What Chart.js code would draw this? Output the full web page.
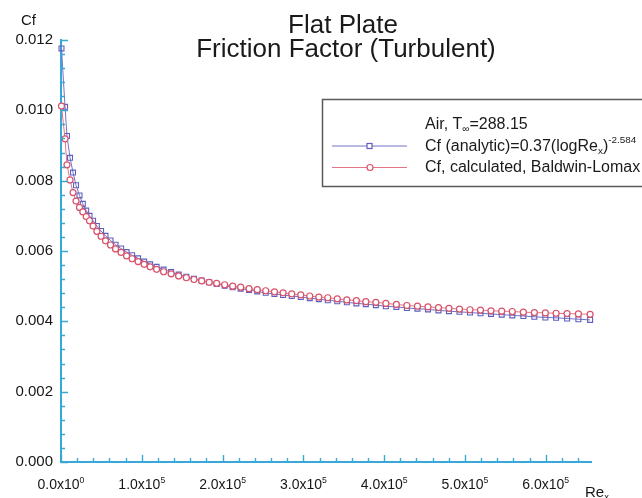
<!DOCTYPE html>
<html>
<head>
<meta charset="utf-8">
<script src="https://cdn.jsdelivr.net/npm/chart.js@4.4.1/dist/chart.umd.min.js"></script>
<style>
  html, body { margin: 0; padding: 0; background: #ffffff; }
  #wrap { width: 642px; height: 498px; }
</style>
</head>
<body>
<div id="wrap"><canvas id="chart" width="642" height="498"></canvas></div>
<script>
// Reynolds number along the plate (grid stations)
const reX = [600, 5000, 7400, 11200, 14900, 18600, 22900, 27000, 31200, 35300,
  39700, 44400, 49600, 55100, 61300, 67500, 74400, 81200, 88000, 95400,
  102900, 110300, 118300, 127000, 136300, 145600, 155100, 164600, 174100, 183400,
  192700, 202600, 212500, 222400, 232700, 242900, 253400, 264200, 274900, 285600,
  296800, 307900, 319100, 330200, 342000, 353800, 365600, 377300, 389700, 402100,
  415100, 428100, 441200, 454200, 467200, 480200, 493200, 506200, 519200, 532200,
  545500, 558600, 572300, 585900, 599500, 612800, 626400, 640400, 654900];

// Skin friction coefficient, analytic correlation
const cfAnalytic = [0.01176, 0.01010, 0.00927, 0.00865, 0.00823, 0.00787, 0.00758, 0.00734, 0.00715, 0.00700,
  0.00686, 0.00671, 0.00657, 0.00643, 0.00630, 0.00618, 0.00607, 0.00597, 0.00588, 0.00579,
  0.00570, 0.00562, 0.00555, 0.00547, 0.00540, 0.00533, 0.00527, 0.00521, 0.00516, 0.00511,
  0.00506, 0.00501, 0.00497, 0.00493, 0.00489, 0.00485, 0.00481, 0.00478, 0.00475, 0.00472,
  0.00469, 0.00466, 0.00463, 0.00460, 0.00457, 0.00454, 0.00451, 0.00449, 0.00446, 0.00443,
  0.00441, 0.00438, 0.00436, 0.00434, 0.00431, 0.00429, 0.00427, 0.00425, 0.00423, 0.00421,
  0.00419, 0.00417, 0.00415, 0.00413, 0.00411, 0.00410, 0.00408, 0.00406, 0.00404];

// Skin friction coefficient, Baldwin-Lomax solution
const cfBaldwinLomax = [0.01012, 0.00919, 0.00845, 0.00802, 0.00766, 0.00742, 0.00724, 0.00711, 0.00698, 0.00686,
  0.00671, 0.00656, 0.00642, 0.00629, 0.00617, 0.00606, 0.00596, 0.00586, 0.00578, 0.00570,
  0.00562, 0.00555, 0.00548, 0.00541, 0.00535, 0.00529, 0.00524, 0.00519, 0.00515, 0.00511,
  0.00508, 0.00504, 0.00500, 0.00497, 0.00493, 0.00490, 0.00487, 0.00484, 0.00481, 0.00478,
  0.00475, 0.00472, 0.00469, 0.00467, 0.00464, 0.00461, 0.00459, 0.00456, 0.00454, 0.00451,
  0.00448, 0.00445, 0.00443, 0.00441, 0.00439, 0.00437, 0.00435, 0.00433, 0.00432, 0.00430,
  0.00429, 0.00428, 0.00426, 0.00425, 0.00424, 0.00423, 0.00422, 0.00421, 0.00420];

// Axis ticks and labels
const xTickValues = [0, 100000, 200000, 300000, 400000, 500000, 600000];
const xTickLabels = ['0.0x10^{0}', '1.0x10^{5}', '2.0x10^{5}', '3.0x10^{5}', '4.0x10^{5}', '5.0x10^{5}', '6.0x10^{5}'];
const yTickValues = [0, 0.002, 0.004, 0.006, 0.008, 0.010, 0.012];
const yTickLabels = ['0.000', '0.002', '0.004', '0.006', '0.008', '0.010', '0.012'];

const titleLines = ['Flat Plate', 'Friction Factor (Turbulent)'];
const legendHeader = 'Air, T_{\u221E}=288.15';
const seriesLabels = ['Cf, calculated, Baldwin-Lomax', 'Cf (analytic)=0.37(logRe_{x})^{-2.584}'];
const yAxisName = 'Cf';
const xAxisName = 'Re_{x}';

const FONT = '"Liberation Sans", Arial, Helvetica, sans-serif';
const AXIS = '#38a8d4';
const RED = '#d8526a';
const RED_LINE = '#e17585';
const BLUE = '#5f5fbf';
const BLUE_LINE = '#7373c9';

// split "a_{b}c^{d}" into plain / subscript / superscript runs
function richRuns(str) {
  const out = [];
  const re = /([_^])\{([^}]*)\}/g;
  let last = 0, m;
  while ((m = re.exec(str))) {
    if (m.index > last) out.push({ t: str.slice(last, m.index), k: '' });
    out.push({ t: m[2], k: m[1] });
    last = re.lastIndex;
  }
  if (last < str.length) out.push({ t: str.slice(last), k: '' });
  return out;
}

function drawRich(ctx, str, x, y, size, align, color) {
  const runs = richRuns(str);
  const small = size * 0.62;
  let w = 0;
  runs.forEach(r => {
    ctx.font = (r.k ? small : size) + 'px ' + FONT;
    r.w = ctx.measureText(r.t).width;
    w += r.w;
  });
  let cx = align === 'center' ? x - w / 2 : x;
  ctx.fillStyle = color;
  ctx.textAlign = 'left';
  ctx.textBaseline = 'alphabetic';
  runs.forEach(r => {
    ctx.font = (r.k ? small : size) + 'px ' + FONT;
    const dy = r.k === '^' ? -size * 0.45 : (r.k === '_' ? size * 0.22 : 0);
    ctx.fillText(r.t, cx, y + dy);
    cx += r.w;
  });
}

const decorations = {
  id: 'decorations',
  afterDraw(chart) {
    const ctx = chart.ctx;
    const xs = chart.scales.x, ys = chart.scales.y;
    const area = chart.chartArea;
    ctx.save();

    // inward tick marks along both axes
    ctx.strokeStyle = AXIS;
    ctx.lineWidth = 1.4;
    ctx.beginPath();
    for (let v = 0; v <= xs.max + 1; v += 20000) {
      const px = Math.round(xs.getPixelForValue(v)) + 0.5;
      const len = (v % 100000 === 0) ? 7 : 4;
      ctx.moveTo(px, area.bottom);
      ctx.lineTo(px, area.bottom - len);
    }
    for (let i = 0; i <= 30; i++) {
      const v = i * 0.0004;
      const py = Math.round(ys.getPixelForValue(v)) + 0.5;
      const len = (i % 5 === 0) ? 7 : 4;
      ctx.moveTo(area.left, py);
      ctx.lineTo(area.left + len, py);
    }
    ctx.stroke();

    // x tick labels with powers of ten
    xTickValues.forEach((v, i) => {
      drawRich(ctx, xTickLabels[i], xs.getPixelForValue(v), 489, 14, 'center', '#161616');
    });

    // axis names
    drawRich(ctx, yAxisName, 21, 25, 15, 'left', '#161616');
    drawRich(ctx, xAxisName, 585, 497, 15, 'left', '#161616');

    // title
    drawRich(ctx, titleLines[0], 343, 33, 26, 'center', '#1a1a1a');
    drawRich(ctx, titleLines[1], 346, 57, 26, 'center', '#1a1a1a');

    // legend box
    ctx.strokeStyle = '#5a5a5a';
    ctx.lineWidth = 1.5;
    ctx.strokeRect(322.5, 99.5, 340, 87);
    drawRich(ctx, legendHeader, 425, 128.5, 16, 'left', '#1a1a1a');

    const rows = [
      { ds: 1, y: 146, text: seriesLabels[1], base: 150.5 },
      { ds: 0, y: 167.5, text: seriesLabels[0], base: 172 }
    ];
    rows.forEach(r => {
      const d = chart.data.datasets[r.ds];
      ctx.strokeStyle = d.borderColor;
      ctx.lineWidth = 1;
      ctx.beginPath();
      ctx.moveTo(332, r.y);
      ctx.lineTo(407, r.y);
      ctx.stroke();
      ctx.strokeStyle = d.pointBorderColor;
      ctx.fillStyle = '#ffffff';
      ctx.lineWidth = 1.2;
      if (d.pointStyle === 'rect') {
        ctx.fillRect(367, r.y - 2.5, 5, 5);
        ctx.strokeRect(367, r.y - 2.5, 5, 5);
      } else {
        ctx.beginPath();
        ctx.arc(370, r.y, 3, 0, Math.PI * 2);
        ctx.fill();
        ctx.stroke();
      }
      drawRich(ctx, r.text, 425, r.base, 16, 'left', '#1a1a1a');
    });

    ctx.restore();
  }
};

const toPoints = (xv, yv) => xv.map((x, i) => ({ x: x, y: yv[i] }));

new Chart(document.getElementById('chart'), {
  type: 'scatter',
  data: {
    datasets: [
      {
        label: seriesLabels[0],
        data: toPoints(reX, cfBaldwinLomax),
        showLine: true,
        borderColor: RED_LINE,
        borderWidth: 1,
        pointStyle: 'circle',
        pointRadius: 3,
        pointBorderWidth: 1.2,
        pointBorderColor: RED,
        pointBackgroundColor: '#ffffff',
        clip: false
      },
      {
        label: seriesLabels[1],
        data: toPoints(reX, cfAnalytic),
        showLine: true,
        borderColor: BLUE_LINE,
        borderWidth: 1,
        pointStyle: 'rect',
        pointRadius: 3.5,
        pointBorderWidth: 1.1,
        pointBorderColor: BLUE,
        pointBackgroundColor: 'rgba(255,255,255,0)',
        clip: false
      }
    ]
  },
  options: {
    responsive: false,
    animation: false,
    devicePixelRatio: 1,
    layout: { padding: { left: 0, right: 51, top: 40, bottom: 0 } },
    plugins: {
      legend: { display: false },
      title: { display: false },
      tooltip: { enabled: false }
    },
    scales: {
      x: {
        type: 'linear',
        min: 0,
        max: 656000,
        afterFit(scale) { scale.height = 36; },
        grid: { display: false },
        border: { display: true, color: AXIS, width: 2 },
        ticks: { display: false, stepSize: 100000 }
      },
      y: {
        type: 'linear',
        min: 0,
        max: 0.012,
        afterFit(scale) { scale.width = 61; },
        afterBuildTicks(scale) { scale.ticks = yTickValues.map(v => ({ value: v })); },
        grid: { display: false, drawTicks: false },
        border: { display: true, color: AXIS, width: 2 },
        ticks: {
          padding: 8,
          color: '#161616',
          font: { family: FONT, size: 15 },
          callback: (v) => yTickLabels[yTickValues.findIndex(t => Math.abs(t - v) < 1e-9)]
        }
      }
    }
  },
  plugins: [decorations]
});
</script>
</body>
</html>
